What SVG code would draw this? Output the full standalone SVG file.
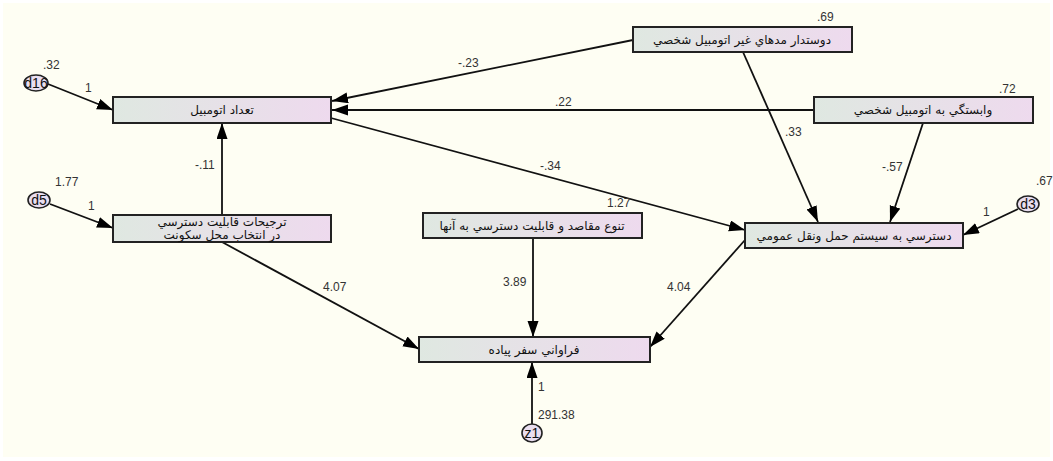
<svg xmlns="http://www.w3.org/2000/svg" width="1053" height="461" viewBox="0 0 1053 461">
<defs>
<linearGradient id="g" x1="0" y1="0" x2="1" y2="0">
<stop offset="0" stop-color="#dfe8e1"/>
<stop offset="1" stop-color="#eedaee"/>
</linearGradient>
<marker id="a" markerUnits="userSpaceOnUse" markerWidth="18" markerHeight="12" refX="16" refY="5.5" orient="auto">
<path d="M0,0 L16,5.5 L0,11 z" fill="#000"/>
</marker>
</defs>
<style>
.box{fill:url(#g);stroke:#222;stroke-width:2}
.ell{fill:#e9def0;stroke:#222;stroke-width:1.6}
.t{font-family:"DejaVu Sans",sans-serif;font-size:12px;fill:#111;text-anchor:middle}
.n{font-family:"Liberation Sans",Arial,sans-serif;font-size:12px;fill:#333}
.e{font-family:"Liberation Sans",Arial,sans-serif;font-size:14px;fill:#111;text-anchor:middle}
.c line{stroke:#111;stroke-width:1.8;marker-end:url(#a)}
</style>
<rect x="0" y="0" width="1053" height="461" fill="#ffffff"/>
<rect x="3" y="3" width="1047" height="454" fill="#fefef3"/>

<g class="c" id="connectors">
<line x1="48" y1="84" x2="113" y2="110"/>
<line x1="50" y1="204" x2="113" y2="228"/>
<line x1="222" y1="215" x2="222" y2="123"/>
<line x1="633" y1="40" x2="332" y2="101"/>
<line x1="814" y1="110" x2="332" y2="110"/>
<line x1="331" y1="118" x2="745" y2="230"/>
<line x1="743" y1="52" x2="818" y2="222"/>
<line x1="923" y1="123" x2="890" y2="222"/>
<line x1="1018" y1="209" x2="963" y2="235"/>
<line x1="222" y1="242" x2="419" y2="349"/>
<line x1="533" y1="238" x2="533" y2="337"/>
<line x1="745" y1="240" x2="650" y2="347"/>
<line x1="532" y1="424" x2="532" y2="362"/>
</g>

<g id="labels">
<text class="n" x="43" y="69">.32</text>
<text class="n" x="85" y="92">1</text>
<text class="n" x="195" y="169">-.11</text>
<text class="n" x="55" y="186">1.77</text>
<text class="n" x="88" y="210">1</text>
<text class="n" x="458" y="67">-.23</text>
<text class="n" x="555" y="106">.22</text>
<text class="n" x="540" y="170">-.34</text>
<text class="n" x="817" y="21">.69</text>
<text class="n" x="999" y="93">.72</text>
<text class="n" x="785" y="136">.33</text>
<text class="n" x="882" y="171">-.57</text>
<text class="n" x="1036" y="185">.67</text>
<text class="n" x="983" y="216">1</text>
<text class="n" x="607" y="207">1.27</text>
<text class="n" x="667" y="291">4.04</text>
<text class="n" x="323" y="291">4.07</text>
<text class="n" x="503" y="286">3.89</text>
<text class="n" x="538" y="391">1</text>
<text class="n" x="538" y="419">291.38</text>
</g>

<g id="n_tedad">
<rect class="box" x="113" y="97" width="218" height="26"/>
<text class="t" x="222" y="114">تعداد اتومبيل</text>
</g>
<g id="n_tarjihat">
<rect class="box" x="113" y="215" width="218" height="27"/>
<text class="t" x="222" y="226">ترجيحات قابليت دسترسي</text>
<text class="t" x="222" y="239">در انتخاب محل سكونت</text>
</g>
<g id="n_doostdar">
<rect class="box" x="633" y="27" width="219" height="25"/>
<text class="t" x="742" y="44">دوستدار مدهاي غير اتومبيل شخصي</text>
</g>
<g id="n_vabastegi">
<rect class="box" x="814" y="97" width="219" height="26"/>
<text class="t" x="923" y="114">وابستگي به اتومبيل شخصي</text>
</g>
<g id="n_dastrasi">
<rect class="box" x="745" y="223" width="218" height="25"/>
<text class="t" x="854" y="240">دسترسي به سيستم حمل ونقل عمومي</text>
</g>
<g id="n_tanavo">
<rect class="box" x="423" y="213" width="219" height="25"/>
<text class="t" x="532" y="230">تنوع مقاصد و قابليت دسترسي به آنها</text>
</g>
<g id="n_faravani">
<rect class="box" x="419" y="337" width="231" height="25"/>
<text class="t" x="534" y="354">فراواني سفر پياده</text>
</g>
<g id="n_d16">
<ellipse class="ell" cx="36" cy="83" rx="12" ry="8"/>
<text class="e" x="36" y="88">d16</text>
</g>
<g id="n_d5">
<ellipse class="ell" cx="39" cy="200" rx="11" ry="8"/>
<text class="e" x="39" y="205">d5</text>
</g>
<g id="n_d3">
<ellipse class="ell" cx="1028" cy="204" rx="11" ry="8"/>
<text class="e" x="1028" y="209">d3</text>
</g>
<g id="n_z1">
<ellipse class="ell" cx="532" cy="433" rx="10" ry="9"/>
<text class="e" x="532" y="438">z1</text>
</g>
</svg>
